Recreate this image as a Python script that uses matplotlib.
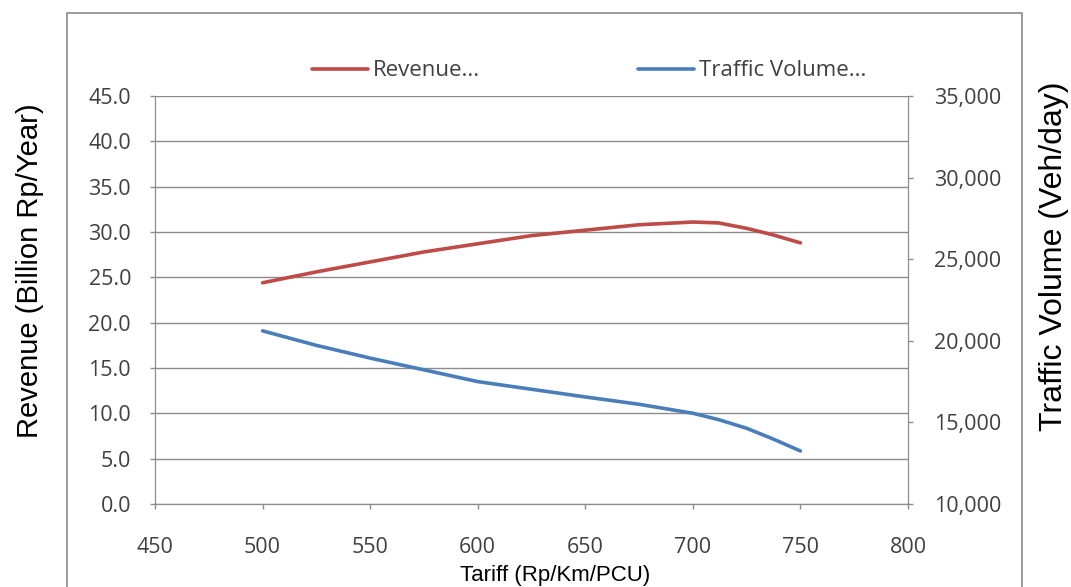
import matplotlib.pyplot as plt
from matplotlib.patches import Rectangle
from matplotlib.ticker import FuncFormatter, MultipleLocator

# Data
tariff = [500, 525, 550, 575, 600, 625, 650, 675, 700, 712, 725, 737, 750]
revenue = [24.4, 25.6, 26.7, 27.8, 28.7, 29.6, 30.2, 30.8, 31.1, 31.0, 30.4, 29.7, 28.8]
traffic = [20610, 19720, 18940, 18220, 17500, 17030, 16560, 16110, 15560, 15170, 14640, 14000, 13250]

red = '#BE4B48'
blue = '#4A7EBB'
grid_c = '#8C8C8C'
tick_c = '#404040'
tick_font = 'Open Sans'
label_font = 'Liberation Sans'

fig = plt.figure(figsize=(10.71, 5.87), dpi=100)
W, H = 1071, 587

# outer chart frame
fig.patches.append(Rectangle((67 / W, -0.02), (1022 - 67) / W, 1 - 13 / H + 0.02,
                             transform=fig.transFigure, fill=False,
                             edgecolor='#8A8A8A', linewidth=1.2))

ax = fig.add_axes([155 / W, 1 - 504 / H, (908 - 155) / W, (504 - 96) / H])
ax2 = ax.twinx()

l1, = ax.plot(tariff, revenue, color=red, linewidth=2.6, solid_capstyle='round')
l2, = ax2.plot(tariff, traffic, color=blue, linewidth=2.6, solid_capstyle='round')

ax.set_xlim(450, 800)
ax.set_ylim(0, 45)
ax2.set_ylim(10000, 35000)
ax.xaxis.set_major_locator(MultipleLocator(50))
ax.yaxis.set_major_locator(MultipleLocator(5))
ax2.yaxis.set_major_locator(MultipleLocator(5000))
ax.yaxis.set_major_formatter(FuncFormatter(lambda v, p: f'{v:.1f}'))
ax2.yaxis.set_major_formatter(FuncFormatter(lambda v, p: f'{v:,.0f}'))

ax.grid(axis='y', color=grid_c, linewidth=1.0)
ax.set_axisbelow(True)

for a in (ax, ax2):
    for s in a.spines.values():
        s.set_color(grid_c)
    a.spines['top'].set_visible(False)

ax.tick_params(axis='x', direction='out', length=3.75, width=1, color=grid_c,
               pad=20, labelsize=15.5, labelcolor=tick_c)
ax.tick_params(axis='y', direction='out', length=3.75, width=1, color=grid_c,
               pad=13.5, labelsize=15.5, labelcolor=tick_c)
ax2.tick_params(axis='y', direction='out', length=3.75, width=1, color=grid_c,
                pad=15, labelsize=15.5, labelcolor=tick_c)
for lab in ax.get_xticklabels() + ax.get_yticklabels() + ax2.get_yticklabels():
    lab.set_fontfamily(tick_font)

fig.text(30 / W, 1 - 271 / H, 'Revenue (Billion Rp/Year)', rotation=90,
         ha='center', va='center', fontsize=21, family=label_font)
fig.text(1054 / W, 1 - 256 / H, 'Traffic Volume (Veh/day)', rotation=90,
         ha='center', va='center', fontsize=23, family=label_font)
fig.text(555 / W, 1 - 581 / H, 'Tariff (Rp/Km/PCU)', ha='center', va='baseline',
         fontsize=16, family=label_font)

leg = fig.legend([l1, l2], ['Revenue...', 'Traffic Volume...'], loc='center',
                 bbox_to_anchor=(589 / W, 1 - 71 / H), ncol=2, frameon=False,
                 handlelength=2.55, handletextpad=0.2, columnspacing=7.1,
                 prop={'family': tick_font, 'size': 16})
for t in leg.get_texts():
    t.set_color(tick_c)

fig.savefig('out.png', dpi=100)
